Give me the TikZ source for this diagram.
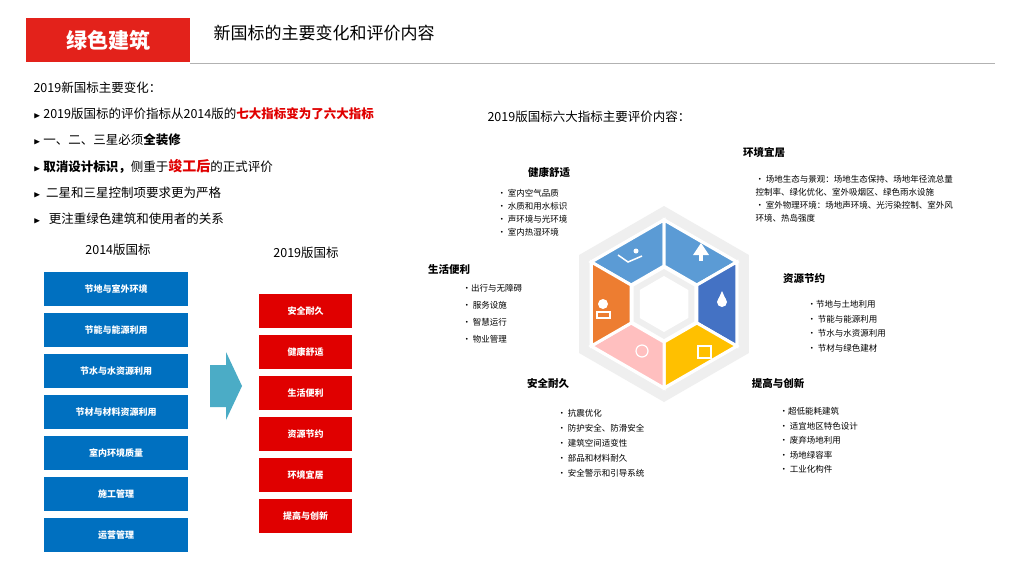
\documentclass[tikz,border=0pt]{standalone}
\usepackage{amssymb}
\usepackage{fontspec}
\setmainfont{Noto Sans CJK SC}
\usetikzlibrary{calc}
\definecolor{hred}{HTML}{E3221B}
\definecolor{bblue}{HTML}{0070C0}
\definecolor{rbox}{HTML}{E00000}
\definecolor{c1}{HTML}{5B9BD5}
\definecolor{c3}{HTML}{4472C4}
\definecolor{c4}{HTML}{FFC000}
\definecolor{c5}{HTML}{FFBFBF}
\definecolor{c6}{HTML}{ED7D31}
\definecolor{ring}{HTML}{EFEFEF}
\definecolor{tealc}{HTML}{4BACC6}
\tikzset{
 bbox/.style={fill=bblue,text=white,minimum width=144pt,minimum height=34pt,font=\fontsize{9}{10}\selectfont\bfseries},
 rrbox/.style={fill=rbox,text=white,minimum width=93pt,minimum height=34pt,font=\fontsize{9}{10}\selectfont\bfseries},
 lst/.style={anchor=west,font=\fontsize{12.5}{14}\selectfont},
 sm/.style={anchor=north west,font=\fontsize{8.5}{13}\selectfont,align=left},
 hd/.style={font=\fontsize{10.5}{12}\selectfont\bfseries}
}
\newcommand{\tri}{{\small$\blacktriangleright$}}
\begin{document}
\begin{tikzpicture}[x=1pt,y=-1pt]
\useasboundingbox (0,0) rectangle (1024,576);
\fill[white] (0,0) rectangle (1024,576);
\node[fill=hred,minimum width=164pt,minimum height=44pt,text=white,font=\fontsize{21}{24}\selectfont\bfseries] (logo) at (108,40) {绿色建筑};
\node[anchor=west,font=\fontsize{17}{20}\selectfont] (title) at (210,33) {新国标的主要变化和评价内容};
\draw[gray!60] (190,63) -- (995,63);
\node[lst] (h1) at (30,88) {2019新国标主要变化：};
\node[lst] (l1) at (30,114) {\tri\ 2019版国标的评价指标从2014版的\textcolor{rbox}{\bfseries 七大指标变为了六大指标}};
\node[lst] (l2) at (30,140) {\tri\ 一、二、三星必须\textbf{全装修}};
\node[lst] (l3) at (30,166) {\tri\ \textbf{取消设计标识，}侧重于\textcolor{rbox}{\bfseries\fontsize{14}{16}\selectfont 竣工后}的正式评价};
\node[lst] (l4) at (30,193) {\tri\ \ 二星和三星控制项要求更为严格};
\node[lst] (l5) at (30,219) {\tri\ \ \ 更注重绿色建筑和使用者的关系};
\node[font=\fontsize{12.5}{14}\selectfont] (t14) at (118,250) {2014版国标};
\node[font=\fontsize{12.5}{14}\selectfont] (t19) at (306,253) {2019版国标};
\foreach \t [count=\i] in {节地与室外环境,节能与能源利用,节水与水资源利用,节材与材料资源利用,室内环境质量,施工管理,运营管理}
  \node[bbox] (b\i) at (116,{289+(\i-1)*41}) {\t};
\foreach \t [count=\i] in {安全耐久,健康舒适,生活便利,资源节约,环境宜居,提高与创新}
  \node[rrbox] (r\i) at (305.5,{311+(\i-1)*41}) {\t};
\fill[tealc] (210,365) -- (226,365) -- (226,352) -- (242,386) -- (226,420) -- (226,407) -- (210,407) -- cycle;
\node[anchor=west,font=\fontsize{12.5}{14}\selectfont] (rt) at (484,117) {2019版国标六大指标主要评价内容：};
\coordinate (C) at (664,304);
\fill[ring] ($(C)+(90:98)$) \foreach \a in {30,-30,-90,-150,150} {-- ($(C)+(\a:98)$)} -- cycle;
\fill[white] ($(C)+(90:86)$) \foreach \a in {30,-30,-90,-150,150} {-- ($(C)+(\a:86)$)} -- cycle;
\foreach \s/\e/\c in {-150/-90/c1,-90/-30/c1,-30/30/c3,30/90/c4,90/150/c5,150/210/c6}
  \fill[\c,draw=white,line width=3pt,line join=miter] ($(C)+(\s:84)$) -- ($(C)+(\e:84)$) -- ($(C)+(\e:38)$) -- ($(C)+(\s:38)$) -- cycle;
\fill[ring] ($(C)+(90:35)$) \foreach \a in {30,-30,-90,-150,150} {-- ($(C)+(\a:35)$)} -- cycle;
\fill[white] ($(C)+(90:28)$) \foreach \a in {30,-30,-90,-150,150} {-- ($(C)+(\a:28)$)} -- cycle;
\draw[white,line width=1.5pt] (618,255) -- (628,262) -- (642,256);
\fill[white] (636,251) circle (2.5);
\fill[white] (701,243) -- (693,255) -- (709,255) -- cycle; \fill[white] (699,255) rectangle (703,261);
\fill[white] (722,302) circle (5); \fill[white] (718,300) -- (722,291) -- (726,300) -- cycle;
\draw[white,line width=1.5pt] (698,346) rectangle (711,358);
\draw[white,line width=1.2pt] (642,351) circle (6);
\fill[white] (603,304) circle (5); \draw[white,line width=1.5pt] (597,312) rectangle (610,318);
\node[hd] (e1) at (764,152) {环境宜居};
\node[hd] (e2) at (549,172) {健康舒适};
\node[hd] (e3) at (449,269) {生活便利};
\node[hd] (e4) at (804,279) {资源节约};
\node[hd] (e5) at (548,383) {安全耐久};
\node[hd] (e6) at (778,383) {提高与创新};
\node[sm] (d1) at (752,172) {•\ 场地生态与景观：场地生态保持、场地年径流总量\\控制率、绿化优化、室外吸烟区、绿色雨水设施\\•\ 室外物理环境：场地声环境、光污染控制、室外风\\环境、热岛强度};
\node[sm] (d2) at (494,186) {•\ 室内空气品质\\•\ 水质和用水标识\\•\ 声环境与光环境\\•\ 室内热湿环境};
\node[sm,font=\fontsize{8.5}{17}\selectfont] (d3) at (459,281) {•出行与无障碍\\•\ 服务设施\\•\ 智慧运行\\•\ 物业管理};
\node[sm,font=\fontsize{8.5}{14.5}\selectfont] (d4) at (804,297) {•节地与土地利用\\•\ 节能与能源利用\\•\ 节水与水资源利用\\•\ 节材与绿色建材};
\node[sm,font=\fontsize{8.5}{15}\selectfont] (d5) at (554,406) {•\ 抗震优化\\•\ 防护安全、防滑安全\\•\ 建筑空间适变性\\•\ 部品和材料耐久\\•\ 安全警示和引导系统};
\node[sm,font=\fontsize{8.5}{14.5}\selectfont] (d6) at (776,404) {•超低能耗建筑\\•\ 适宜地区特色设计\\•\ 废弃场地利用\\•\ 场地绿容率\\•\ 工业化构件};
\end{tikzpicture}
\end{document}
